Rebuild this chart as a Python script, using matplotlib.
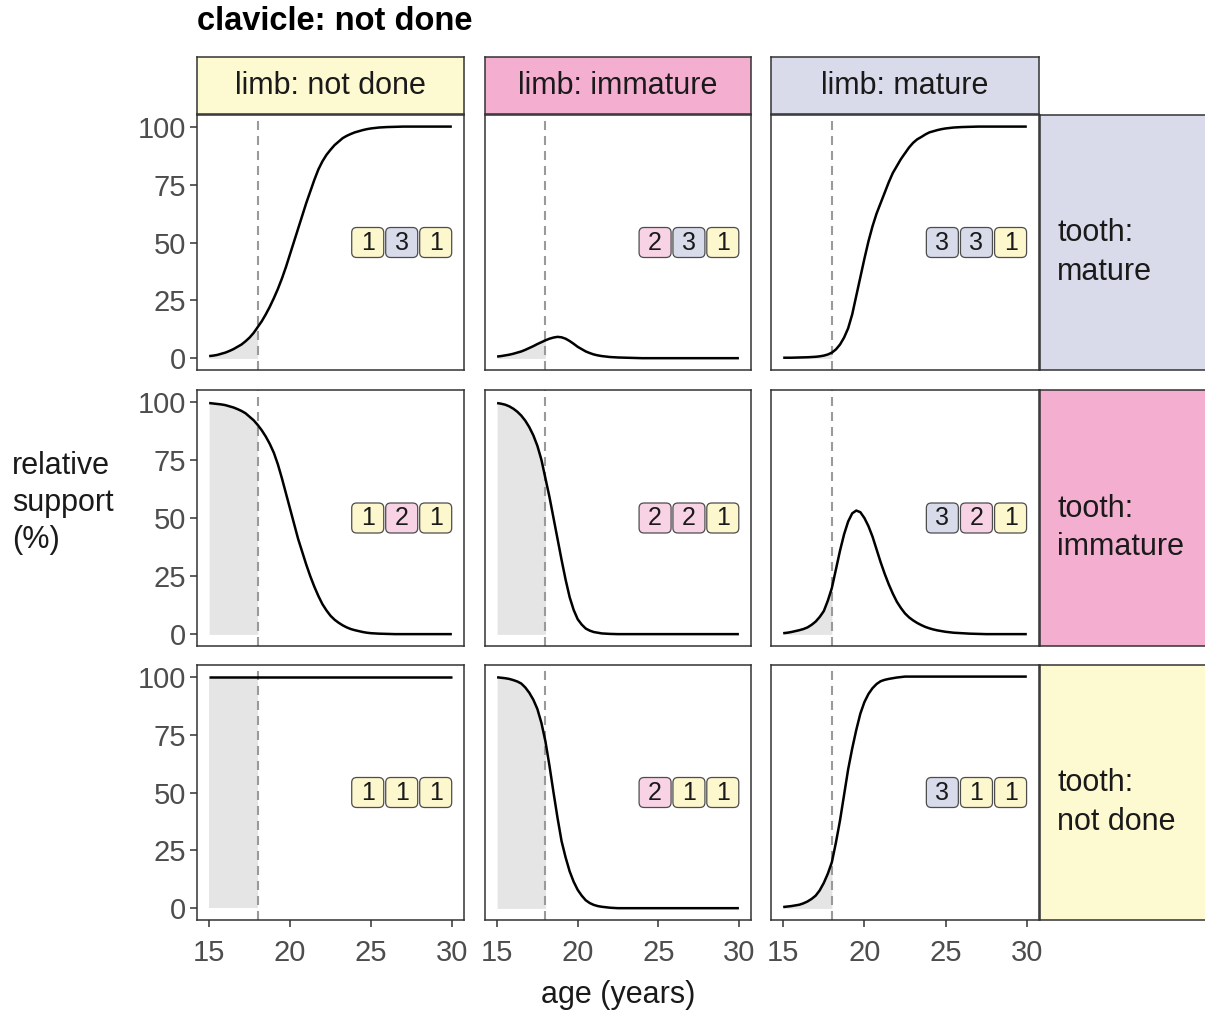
import matplotlib
matplotlib.use('Agg')
import matplotlib.pyplot as plt
from matplotlib.patches import FancyBboxPatch
import numpy as np

plt.rcParams['font.family'] = ['Liberation Sans', 'DejaVu Sans']
plt.rcParams['lines.scale_dashes'] = False

W, H = 1205, 1019

title = 'clavicle: not done'
limb_labels = ['limb: not done', 'limb: immature', 'limb: mature']
tooth_labels = ['tooth:\nmature', 'tooth:\nimmature', 'tooth:\nnot done']
stage_colors = {'not done': '#fdf9d0', 'immature': '#f4afd0', 'mature': '#d9dbea'}
col_stage = ['not done', 'immature', 'mature']
row_stage = ['mature', 'immature', 'not done']
badge_colors = {'1': '#fcf7cc', '2': '#f8d2e5', '3': '#d8dbe9'}

age = np.arange(15, 30.25, 0.25)
cutoff = 18

# rows: tooth mature / immature / not done ; cols: limb not done / immature / mature
r1c1 = [1.0, 1.2, 1.5, 2.0, 2.5, 3.2, 4.0, 5.0, 6.0, 7.4,
        9.0, 11.0, 13.5, 16.0, 19.0, 22.3, 26, 30, 34.5, 39.5,
        45, 50.5, 56, 61.5, 67, 72, 77, 81.5, 85, 87.8,
        90, 92, 93.5, 95, 96, 96.8, 97.5, 98, 98.5, 98.9,
        99.2, 99.4, 99.6, 99.7, 99.8, 99.85, 99.9, 99.95] + [100] * 13
r1c2 = [0.8, 1.0, 1.3, 1.6, 2.0, 2.5, 3.0, 3.7, 4.5, 5.3,
        6.2, 7.0, 7.8, 8.5, 9.0, 9.3, 9.1, 8.5, 7.5, 6.3,
        5.0, 4.0, 3.0, 2.3, 1.7, 1.3, 1.0, 0.8, 0.6, 0.5,
        0.4, 0.35, 0.3, 0.25, 0.2, 0.15] + [0.1] * 25
r1c3 = [0.3, 0.3, 0.3, 0.35, 0.4, 0.45, 0.5, 0.6, 0.7, 0.9,
        1.2, 1.7, 2.5, 3.9, 6.0, 9.0, 13, 19, 27, 35,
        43, 50.5, 57, 62.5, 67, 71.5, 76, 80, 83, 86,
        88.5, 91, 93, 94.5, 95.5, 96.6, 97.5, 98, 98.5, 98.9,
        99.2, 99.4, 99.6, 99.7, 99.8, 99.85, 99.9, 99.95] + [100] * 13
r2c1 = [99.4, 99.2, 99.0, 98.8, 98.5, 98.0, 97.5, 96.8, 96.0, 95.0,
        93.5, 92.0, 90, 87.7, 85, 81.8, 78, 73, 67, 60.5,
        54, 47.5, 41, 35.5, 30, 25, 20.5, 16.5, 13, 10.3,
        8, 6.3, 5, 3.9, 3.0, 2.3, 1.8, 1.4, 1.0, 0.7,
        0.5, 0.4, 0.3, 0.25, 0.2, 0.15] + [0.1] * 15
r2c2 = [99.4, 99.1, 98.7, 98.0, 97, 95.7, 94, 91.8, 89, 85.5,
        81, 75, 67, 59, 50, 41, 32, 23.5, 16, 10.5,
        6.5, 4.2, 2.5, 1.6, 1.0, 0.7, 0.4, 0.3, 0.2, 0.15] + [0.1] * 31
r2c3 = [0.5, 0.7, 1.0, 1.4, 1.8, 2.3, 3.0, 4.1, 5.5, 7.5,
        10, 14.5, 20, 28, 36, 43, 48.5, 52, 53.2, 52.5,
        50, 46.5, 42, 36.5, 31, 26, 21.5, 17.5, 14, 11.3,
        9, 7.3, 6, 4.9, 4, 3.2, 2.6, 2.1, 1.7, 1.4,
        1.1, 0.9, 0.7, 0.6, 0.5, 0.4, 0.3, 0.25, 0.2, 0.15] + [0.1] * 11
r3c1 = [100] * 61
r3c2 = [99.7, 99.5, 99.3, 99.0, 98.5, 97.9, 97, 95.3, 93, 90,
        86, 80, 72, 61.5, 50, 39, 29, 22, 16, 11.5,
        8, 5.5, 3.5, 2.3, 1.5, 1.0, 0.7, 0.5, 0.3, 0.2] + [0.1] * 31
r3c3 = [0.6, 0.8, 1.0, 1.3, 1.6, 2.2, 3.0, 4.1, 5.5, 7.8,
        11, 15, 20, 28.5, 38, 49, 60, 69, 77, 84,
        89, 92.5, 95, 96.8, 98, 98.6, 99, 99.3, 99.6, 99.8] + [100] * 31
support = [[r1c1, r1c2, r1c3], [r2c1, r2c2, r2c3], [r3c1, r3c2, r3c3]]

badges = [[['1', '3', '1'], ['2', '3', '1'], ['3', '3', '1']],
          [['1', '2', '1'], ['2', '2', '1'], ['3', '2', '1']],
          [['1', '1', '1'], ['2', '1', '1'], ['3', '1', '1']]]

col_x = [(197, 464), (485, 751), (771, 1039)]
row_y = [(115, 370), (390, 646), (665, 920)]
strip_top = (57, 114)
strip_right = (1040, 1220)


def rect(x0, y0, x1, y1):
    return [x0 / W, 1 - y1 / H, (x1 - x0) / W, (y1 - y0) / H]


fig = plt.figure(figsize=(W / 100, H / 100), dpi=100)
border = '#333333'

for i in range(3):
    for j in range(3):
        x0, x1 = col_x[j]
        y0, y1 = row_y[i]
        ax = fig.add_axes(rect(x0, y0, x1, y1))
        y = np.array(support[i][j])
        m = age <= cutoff
        ax.fill_between(age[m], 0, y[m], color='#e5e5e5', lw=0, zorder=1)
        ax.axvline(cutoff, color='#9a9a9a', lw=1.5, ls=(0, (6.5, 4.3)), zorder=2)
        ax.plot(age, y, color='black', lw=1.8, zorder=3, solid_capstyle='butt')
        ax.set_xlim(14.25, 30.75)
        ax.set_ylim(-5, 105)
        # badges
        pxx = (x1 - x0) / 16.5
        pxy = (y1 - y0) / 110
        bw, bh = 32 / pxx, 30 / pxy
        for k, lab in enumerate(badges[i][j]):
            cx = 29.0 - 2.1 * (2 - k)
            p = FancyBboxPatch((cx - bw / 2, 50 - bh / 2), bw, bh,
                               boxstyle='round,pad=0,rounding_size=%f' % (5 / pxx),
                               mutation_aspect=pxx / pxy,
                               fc=badge_colors[lab], ec='#4d4d4d', lw=0.9, zorder=4)
            ax.add_patch(p)
            ax.text(cx, 50, lab, ha='center', va='center', fontsize=18,
                    color='#1a1a1a', zorder=5)
        for s in ax.spines.values():
            s.set_color(border)
            s.set_linewidth(1.1)
        ax.tick_params(color=border, width=1.1, length=5, labelcolor='#4d4d4d',
                       labelsize=21, pad=3)
        ax.tick_params(axis='x', pad=9)
        ax.set_xticks([15, 20, 25, 30])
        ax.set_yticks([0, 25, 50, 75, 100])
        if i < 2:
            ax.tick_params(axis='x', bottom=False, labelbottom=False)
        if j > 0:
            ax.tick_params(axis='y', left=False, labelleft=False)

# top strips
for j in range(3):
    x0, x1 = col_x[j]
    sa = fig.add_axes(rect(x0, strip_top[0], x1, strip_top[1]))
    sa.set_facecolor(stage_colors[col_stage[j]])
    sa.set_xticks([])
    sa.set_yticks([])
    for s in sa.spines.values():
        s.set_color(border)
        s.set_linewidth(1.1)
    sa.text(0.5, 0.5, limb_labels[j], ha='center', va='center', fontsize=22,
            color='#1a1a1a', transform=sa.transAxes)

# right strips
for i in range(3):
    y0, y1 = row_y[i]
    sa = fig.add_axes(rect(strip_right[0], y0, strip_right[1], y1))
    sa.set_facecolor(stage_colors[row_stage[i]])
    sa.set_xticks([])
    sa.set_yticks([])
    for s in sa.spines.values():
        s.set_color(border)
        s.set_linewidth(1.1)
    sa.text(17 / (strip_right[1] - strip_right[0]), 0.5 - 10 / (y1 - y0), tooth_labels[i],
            ha='left', va='center', fontsize=22, color='#1a1a1a',
            linespacing=1.35, transform=sa.transAxes)

fig.text(197 / W, 1 - 30 / H, title, ha='left', va='baseline', fontsize=23.5,
         fontweight='bold', color='black')
fig.text(12 / W, 1 - 503 / H, 'relative\nsupport\n(%)', ha='left', va='center',
         fontsize=22, color='#1a1a1a', linespacing=1.32)
fig.text(618 / W, 1 - 995 / H, 'age (years)', ha='center', va='center',
         fontsize=22, color='#1a1a1a')

fig.savefig('out.png', dpi=100, facecolor='white')
